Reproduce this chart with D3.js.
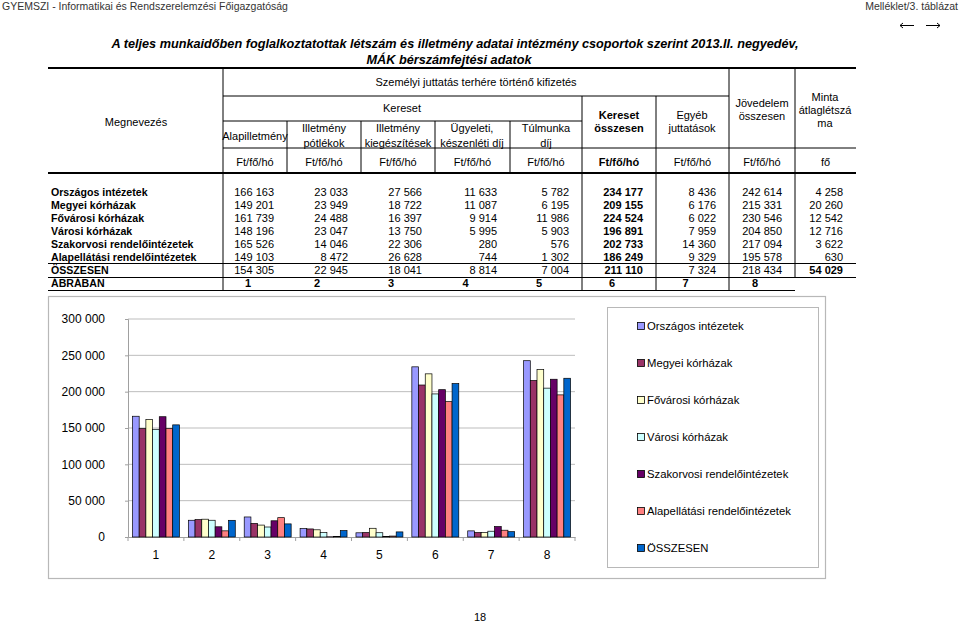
<!DOCTYPE html>
<html><head><meta charset="utf-8">
<script src="https://cdn.jsdelivr.net/npm/d3@7"></script>
<style>body{margin:0;background:#fff}svg{display:block;font-family:Arial,"Liberation Sans",sans-serif}</style>
</head><body>
<svg id="c" width="960" height="622"></svg>
<script>
const categories = ["1","2","3","4","5","6","7","8"];
const seriesNames = ["Országos intézetek","Megyei kórházak","Fővárosi kórházak","Városi kórházak","Szakorvosi rendelőintézetek","Alapellátási rendelőintézetek","ÖSSZESEN"];
const orszagos    = [166163,23033,27566,11633,5782,234177,8436,242614];
const megyei      = [149201,23949,18722,11087,6195,209155,6176,215331];
const fovarosi    = [161739,24488,16397,9914,11986,224524,6022,230546];
const varosi      = [148196,23047,13750,5995,5903,196891,7959,204850];
const szakorvosi  = [165526,14046,22306,280,576,202733,14360,217094];
const alapellatas = [149103,8472,26628,744,1302,186249,9329,195578];
const osszesen    = [154305,22945,18041,8814,7004,211110,7324,218434];
const mintaLetszam = [4258,20260,12542,12716,3622,630,54029];
const yTicks = [0,50000,100000,150000,200000,250000,300000];
const colors = ["#9999FF","#993366","#FFFFCC","#CCFFFF","#660066","#FF8080","#0066CC"];

const seriesValues = [orszagos,megyei,fovarosi,varosi,szakorvosi,alapellatas,osszesen];
const fmt = v => d3.format(",")(v).replace(/,/g," ");
const svg = d3.select("#c");
const F = "Arial, 'Liberation Sans', sans-serif";

// page header
svg.append("text").attr("x",2).attr("y",10).attr("font-size",10.5).attr("fill","#333").text("GYEMSZI - Informatikai és Rendszerelemzési Főigazgatóság");
svg.append("text").attr("x",958).attr("y",10).attr("text-anchor","end").attr("font-size",10.5).attr("fill","#333").text("Melléklet/3. táblázat");
const ar = svg.append("g").attr("stroke","#000").attr("stroke-width",1).attr("fill","none");
ar.append("path").attr("d","M900,25.5 H914 M900,25.5 l3,-2.5 M900,25.5 l3,2.5");
ar.append("path").attr("d","M926,25.5 H940 M940,25.5 l-3,-2.5 M940,25.5 l-3,2.5");

// title
const title = svg.append("g").attr("font-size",12.7).attr("font-weight","bold").attr("font-style","italic").attr("text-anchor","middle");
title.append("text").attr("x",455).attr("y",48).text("A teljes munkaidőben foglalkoztatottak létszám és illetmény adatai intézmény csoportok szerint 2013.II. negyedév,");
title.append("text").attr("x",449).attr("y",64).text("MÁK bérszámfejtési adatok");

// table grid
const colX = [48,223,287,361,435,510,582,656,729,795,856];
const L = svg.append("g").attr("stroke","#000");
function line(x1,y1,x2,y2,w){L.append("line").attr("x1",x1).attr("y1",y1).attr("x2",x2).attr("y2",y2).attr("stroke-width",w||1);}
line(48,68,856,68,2.2);
line(48,173,856,173,2);
line(223,96,729,96);
line(223,121,582,121);
line(223,148,856,148);
line(48,263.5,856,263.5);
line(48,277.5,856,277.5);
line(48,290.5,795,290.5);
line(223,68,223,290.5);
[287,361,435,510].forEach(x=>line(x,121,x,173));
line(582,96,582,290.5);
line(656,96,656,290.5);
line(729,68,729,290.5);
line(795,68,795,277.5);

const T = svg.append("g").attr("font-size",11).attr("fill","#000");
function tx(x,y,s,anchor,bold,fs){const t=T.append("text").attr("x",x).attr("y",y).attr("text-anchor",anchor||"middle").attr("font-weight",bold?"bold":"normal").text(s); if(fs) t.attr("font-size",fs);}
tx(136,126,"Megnevezés");
tx(476,86,"Személyi juttatás terhére történő kifizetés");
tx(402,112,"Kereset");
tx(255,140,"Alapilletmény");
tx(324,132,"Illetmény");tx(324,147,"pótlékok");
tx(398,132,"Illetmény");tx(398,147,"kiegészítések");
tx(472,132,"Ügyeleti,");tx(472,147,"készenléti díj");
tx(546,132,"Túlmunka");tx(546,147,"díj");
tx(619,119,"Kereset",null,true);tx(619,132,"összesen",null,true);
tx(692,119,"Egyéb");tx(692,132,"juttatások");
tx(762,107,"Jövedelem");tx(762,120,"összesen");
tx(825,101,"Minta");tx(825,114,"átlaglétszá");tx(825,127,"ma");
for(let i=1;i<colX.length-1;i++){
  tx((colX[i]+colX[i+1])/2,166,i===9?"fő":"Ft/fő/hó",null,i===6);
}
const rowY = [196,209,222,235,248,261,274];
seriesNames.forEach((name,r)=>{
  tx(51,rowY[r],name,"start",true,10.6);
  const vals = seriesValues[r].concat([mintaLetszam[r]]);
  vals.forEach((v,c)=>{
    const bold = c===5 || (c===8 && r===6);
    tx(colX[c+2]-13,rowY[r],fmt(v),"end",bold);
  });
});
tx(51,287,"ÁBRÁBAN","start",true,10.6);
categories.forEach((c,i)=>tx((colX[i+1]+colX[i+2])/2-7,287,c,"middle",true));

// chart frame
svg.append("rect").attr("x",48.5).attr("y",296.5).attr("width",777).attr("height",282).attr("fill","none").attr("stroke","#b8b8b8").attr("stroke-width",1.2);

const x0 = d3.scaleBand().domain(categories).range([128,575]).paddingInner(0.16).paddingOuter(0.08);
const x1 = d3.scaleBand().domain(seriesNames).range([0,x0.bandwidth()]);
const y = d3.scaleLinear().domain([0,300000]).range([537,319]);

// gridlines
svg.append("g").selectAll("line").data(yTicks.slice(1)).join("line")
  .attr("x1",128).attr("x2",575).attr("y1",d=>y(d)).attr("y2",d=>y(d)).attr("stroke","#bdbdbd");

const yAxis = d3.axisLeft(y).tickValues(yTicks).tickSize(3).tickPadding(20).tickFormat(fmt);
const gy = svg.append("g").attr("transform","translate(128,0)").call(yAxis);
gy.select(".domain").attr("stroke","#a0a0a0");
gy.selectAll(".tick line").attr("stroke","#a0a0a0");
gy.selectAll("text").attr("font-size",12).attr("font-family",F).attr("fill","#000");

const gx = svg.append("g").attr("transform","translate(0,537)").call(d3.axisBottom(x0).tickSize(0).tickPadding(13));
gx.select(".domain").attr("stroke","#a0a0a0");
gx.selectAll("text").attr("font-size",12).attr("font-family",F).attr("fill","#000");
const bounds = categories.map(c=>x0(c)-x0.step()*x0.paddingInner()/2).concat([575]);
bounds[0]=128;
svg.append("g").selectAll("line").data(bounds).join("line")
  .attr("x1",d=>d).attr("x2",d=>d).attr("y1",537).attr("y2",541).attr("stroke","#a0a0a0");

// bars
const bars = svg.append("g");
seriesNames.forEach((s,si)=>{
  bars.append("g").selectAll("rect").data(seriesValues[si]).join("rect")
    .attr("x",(d,i)=>x0(categories[i])+x1(s))
    .attr("y",d=>y(d))
    .attr("width",x1.bandwidth())
    .attr("height",d=>y(0)-y(d))
    .attr("fill",colors[si]).attr("stroke","#000").attr("stroke-width",0.7);
});

// legend
svg.append("rect").attr("x",607.5).attr("y",307.5).attr("width",211).attr("height",260).attr("fill","none").attr("stroke","#b8b8b8");
const lg = svg.append("g");
seriesNames.forEach((s,i)=>{
  const cy = 326 + i*37;
  lg.append("rect").attr("x",637.5).attr("y",cy-3.5).attr("width",7).attr("height",7).attr("fill",colors[i]).attr("stroke","#000").attr("stroke-width",0.8);
  lg.append("text").attr("x",647).attr("y",cy+4.2).attr("font-size",11.3).text(s);
});

// page number
svg.append("text").attr("x",480).attr("y",621).attr("text-anchor","middle").attr("font-size",11).text("18");
</script>
</body></html>
